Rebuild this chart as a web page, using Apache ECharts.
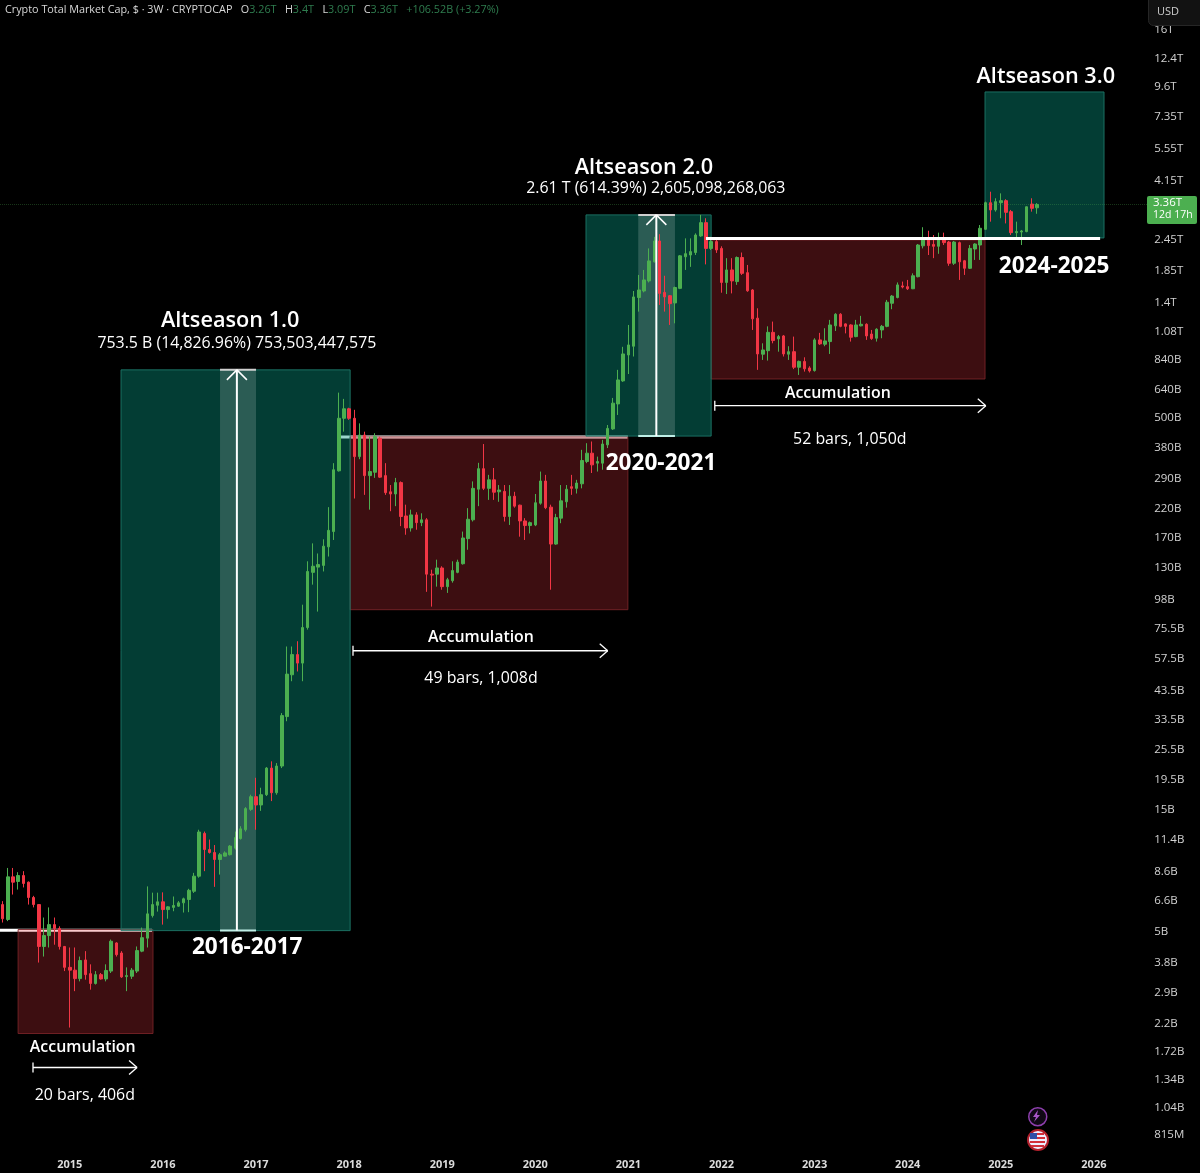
<!DOCTYPE html>
<html>
<head>
<meta charset="utf-8">
<title>Crypto Total Market Cap</title>
<script src="https://cdn.jsdelivr.net/npm/echarts@6/dist/echarts.min.js"></script>
<style>html,body{margin:0;background:#000}</style>
</head>
<body>
<div id="main" style="width:1200px;height:1173px;"></div>
<script>
// values in billions USD, one entry per 3W bar
var opens = [6.40,5.60,8.20,7.87,8.30,7.82,6.82,6.40,4.40,4.85,
5.35,5.17,4.40,3.65,3.56,3.30,3.90,3.45,3.16,3.42,
3.29,3.53,4.54,4.15,3.36,3.37,3.53,4.22,4.74,5.80,
6.36,6.56,6.12,6.24,6.31,6.50,6.70,7.21,8.25,12.1,
10.47,10.2,9.58,9.87,10.0,10.6,11.55,12.5,15.0,16.8,
15.6,17.1,21.7,17.4,22.1,34.4,50.0,59.9,55.5,76.3,
125,131,133,157,180,310,496,540,496,352,
427,297,306,415,297,257,252,279,207,186,
209,195,200,123,123,130,110,116,125,135,
169,200,263,316,265,286,257,258,206,247,
228,198,190,191,232,283,224,161,203,235,
269,265,276,337,363,332,332,391,451,564,
693,874,945,1461,1549,1695,2010,2423,1530,1485,
1392,1586,2103,2137,2185,2534,2855,2267,2410,2267,
1672,1870,1685,2090,1825,1563,1215,880,908,1070,
1009,1036,880,900,783,825,778,760,1000,962,
985,1134,1258,1154,1143,1030,1134,1150,1054,1015,
1093,1129,1388,1461,1621,1610,1580,1760,2320,2500,
2350,2310,2500,2400,1985,2387,2030,1898,2255,2337,
2690,3412,3198,3412,3475,3150,2610,2625,2635,3370,3260];
var closes = [5.64,8.20,7.82,8.30,7.73,6.82,6.40,4.40,4.85,5.35,
5.17,4.40,3.65,3.56,3.30,3.88,3.42,3.16,3.42,3.29,
3.55,4.61,4.09,3.35,3.39,3.56,4.24,4.76,5.89,6.40,
6.56,6.12,6.27,6.35,6.50,6.74,7.27,8.25,12.25,10.47,
10.2,9.58,10.0,10.16,10.8,11.65,12.6,15.1,16.8,15.6,
17.1,21.7,17.4,22.1,34.7,50.3,59.9,55.5,76.3,126,
132,134,158,182,313,496,540,496,352,427,
297,308,421,293,255,252,279,206,186,209,
195,200,123,122,130,110,117,127,137,170,
201,265,316,265,286,256,261,206,247,226,
198,190,195,233,283,223,161,204,237,263,
265,278,340,363,327,337,394,453,568,699,
882,956,1469,1563,1710,2027,2423,1516,1469,1383,
1598,2121,2163,2203,2556,2855,2267,2410,2236,1672,
1870,1695,2090,1814,1552,1207,882,914,1070,994,
1030,882,900,783,825,772,758,1000,965,991,
1143,1258,1129,1129,1024,1143,1150,1036,1012,1100,
1129,1401,1480,1636,1605,1580,1775,2337,2480,2325,
2310,2500,2387,1985,2400,2010,1898,2267,2358,2715,
3412,3198,3445,3475,3130,2610,2635,2650,3290,3245,3360];
var highs = [6.60,8.88,8.88,8.55,8.63,7.87,6.92,6.42,5.70,6.24,
5.70,5.27,4.42,4.36,4.36,4.02,4.22,3.75,3.53,3.47,
3.75,4.68,4.57,4.22,3.65,3.63,4.40,5.21,7.53,7.12,
7.12,7.14,6.31,6.88,6.60,6.81,7.37,8.50,12.5,12.3,
11.45,10.9,10.16,10.3,10.9,12.3,12.9,15.3,17.1,19.9,
18.2,21.9,23.05,22.7,35.5,64.4,64.4,67.5,93.6,138,
162,148,168,224,332,624,590,545,535,474,
440,421,434,421,332,273,291,282,229,219,
214,212,203,128,140,132,119,138,140,180,
222,282,333,394,299,318,273,273,273,257,
229,203,197,252,308,299,229,211,273,273,
299,286,374,397,403,352,409,467,595,765,
940,1143,1549,1788,1870,2267,2514,2575,1775,1494,
1610,2137,2480,2480,2594,3060,2970,2514,2480,2310,
2078,2078,2110,2185,1955,1575,1327,970,1129,1178,
1045,1045,945,1030,831,856,790,1015,1065,1110,
1196,1270,1270,1160,1150,1196,1240,1160,1093,1110,
1143,1430,1494,1672,1685,1710,1814,2358,2740,2655,
2556,2610,2610,2423,2423,2410,2045,2337,2373,2795,
3445,3765,3550,3710,3520,3198,2880,2674,3300,3550,3400];
var lows = [5.45,5.52,7.00,7.32,7.46,6.40,6.24,3.81,4.02,4.36,
4.47,4.28,3.53,2.13,2.95,3.22,3.27,2.99,3.13,3.27,
3.22,3.47,4.02,3.32,2.95,3.29,3.47,4.18,4.36,5.70,
6.01,5.35,5.64,6.03,6.27,5.96,5.98,7.10,8.14,8.63,
10.1,7.50,8.37,9.84,9.93,10.47,11.45,12.3,14.8,12.5,
14.8,16.9,16.15,17.1,21.7,33.0,47.2,51.5,47.2,74.9,
112,88,126,144,167,308,440,489,242,344,
250,219,291,291,250,216,226,189,175,180,
183,189,105,92,110,107,104,114,124,134,
153,197,226,261,239,239,235,197,191,223,
172,167,177,189,229,220,107,160,194,223,
250,253,265,332,304,308,313,380,447,511,
687,737,862,1288,1530,1672,2000,1367,1288,1143,
1160,1575,1870,1922,2137,2514,1965,2236,2177,1525,
1507,1516,1636,1788,1538,1093,765,836,831,970,
900,862,836,770,731,753,747,753,956,945,
882,1083,1120,1060,985,1024,1129,1000,1000,985,
1015,1120,1316,1450,1586,1563,1575,1750,2267,2137,
2078,2160,2337,1940,1955,1710,1788,1885,2045,2045,
2674,2880,3150,2970,2835,2556,2460,2337,2620,3150,3090];

var yearLabels = ['2015','2016','2017','2018','2019','2020','2021','2022','2023','2024','2025','2026'];
var firstYearBar = 13, barsPerYear = 18, barCount = 222;

var priceTicks = [16000,12400,9600,7350,5550,4150,2450,1850,1400,1080,840,640,500,380,290,220,170,130,98,75.5,57.5,43.5,33.5,25.5,19.5,15,11.4,8.6,6.6,5,3.8,2.9,2.2,1.72,1.34,1.04,0.815];
var lastClose = 3360;

// annotation boxes: [from bar, to bar, low, high]
var redBoxes = [[3,29.08,2.02,5.12],[67.2,120.9,89.5,420],[137,189.95,705,2445]];
var greenBoxes = [[22.9,67.2,5.07,765],[112.8,137,423,3060],[189.95,212.96,2490,9190]];
var measureBands = [[42.04,49,5.07,765],[122.9,130,423,3060]];
// horizontal levels: [from bar, to bar, value]
var levelsUnder = [[-0.5,28.9,5.09],[65.2,120.9,420]];
var levelsOver = [[136,212.2,2475]];
// measure arrows: [bar, low, high]
var measures = [[45.3,5.07,765],[126.4,423,3060]];
// accumulation ranges: [from bar, to bar, value]
var ranges = [[5.88,26,1.49],[67.75,117,62],[137.7,190.1,555]];
// notes: [bar, value, text, style]
var notes = [
  [44,1190,'Altseason 1.0','title'],
  [45.3,965,'753.5 B (14,826.96%) 753,503,447,575','small'],
  [124,4650,'Altseason 2.0','title'],
  [126.3,3860,'2.61 T (614.39%) 2,605,098,268,063','small'],
  [201.7,10500,'Altseason 3.0','title'],
  [47.3,4.36,'2016-2017','period'],
  [127.3,332,'2020-2021','period'],
  [203.3,1935,'2024-2025','period'],
  [15.5,1.79,'Accumulation','acc'],
  [92.5,69.6,'Accumulation','acc'],
  [161.5,621,'Accumulation','acc'],
  [15.9,1.16,'20 bars, 406d','small'],
  [92.5,48.4,'49 bars, 1,008d','small'],
  [163.8,412,'52 bars, 1,050d','small']
];

var fontName = '"Open Sans", sans-serif';
var noteFonts = {
  title: '600 21.7px ' + fontName,
  small: '500 15.9px ' + fontName,
  period: '700 22.6px ' + fontName,
  acc: '600 15.9px ' + fontName
};

var categories = [];
for (var b = 0; b < barCount; b++) categories.push('bar' + b);

function fmtPrice(v) {
  if (v >= 1000) return +(v / 1000).toFixed(2) + 'T';
  if (v < 1) return Math.round(v * 1000) + 'M';
  return +v.toFixed(2) + 'B';
}

function boxSeries(list, fill, border, z) {
  return {
    type: 'custom', xAxisIndex: 1, yAxisIndex: 0, z: z, silent: true, clip: false,
    data: list.map(function (d, i) { return [d[0], d[2], i]; }),
    renderItem: function (params, api) {
      var d = list[params.dataIndex];
      var a = api.coord([d[0], d[3]]), c = api.coord([d[1], d[2]]);
      return {
        type: 'rect',
        shape: { x: a[0], y: a[1], width: c[0] - a[0], height: c[1] - a[1] },
        style: { fill: fill, stroke: border, lineWidth: 1 }
      };
    }
  };
}

function levelSeries(list, z) {
  return {
    type: 'custom', xAxisIndex: 1, yAxisIndex: 0, z: z, silent: true, clip: false,
    data: list.map(function (d, i) { return [d[0], d[2], i]; }),
    renderItem: function (params, api) {
      var d = list[params.dataIndex];
      var a = api.coord([d[0], d[2]]), c = api.coord([d[1], d[2]]);
      return { type: 'line', shape: { x1: a[0], y1: a[1], x2: c[0], y2: c[1] }, style: { stroke: '#fff', lineWidth: 3 } };
    }
  };
}

function seg(x1, y1, x2, y2, color, w) {
  return { type: 'line', shape: { x1: x1, y1: y1, x2: x2, y2: y2 }, style: { stroke: color, lineWidth: w } };
}

var chart = echarts.init(document.getElementById('main'));
chart.setOption({
  animation: false,
  backgroundColor: '#000',
  textStyle: { fontFamily: fontName },
  grid: { left: 0, top: 0, width: 1148.2, height: 1151 },
  xAxis: [{
    type: 'category', data: categories,
    axisLine: { show: false }, axisTick: { show: false }, splitLine: { show: false },
    axisLabel: {
      color: '#dcdcdc', fontSize: 11, fontWeight: 700, margin: 8,
      interval: function (i) { return i >= firstYearBar && (i - firstYearBar) % barsPerYear === 0; },
      formatter: function (v, i) { return yearLabels[(i - firstYearBar) / barsPerYear] || ''; }
    }
  }, {
    type: 'value', min: -0.5, max: barCount - 0.5, show: false, splitLine: { show: false }
  }],
  yAxis: {
    type: 'log', position: 'right', min: 0.706, max: 20920,
    axisLine: { show: false }, axisTick: { show: false }, splitLine: { show: false },
    axisLabel: {
      color: '#d2d2d2', fontSize: 11.5, fontWeight: 500, margin: 6, align: 'left',
      customValues: priceTicks,
      formatter: function (v) { return fmtPrice(v); }
    }
  },
  series: [
    levelSeries(levelsUnder, 0),
    boxSeries(redBoxes, 'rgba(242,54,69,0.25)', 'rgba(120,35,40,0.9)', 1),
    boxSeries(greenBoxes, 'rgba(8,153,129,0.4)', 'rgba(30,120,105,0.9)', 1),
    boxSeries(measureBands, 'rgba(255,255,255,0.16)', 'rgba(255,255,255,0)', 1),
    {
      type: 'candlestick', z: 2, barWidth: 3, clip: true,
      data: opens.map(function (o, i) { return [o, closes[i], lows[i], highs[i]]; }),
      itemStyle: { color: '#4caf50', color0: '#f23645', borderColor: '#4caf50', borderColor0: '#f23645', borderWidth: 1 },
      markLine: {
        silent: true, symbol: 'none', label: { show: false }, animation: false,
        lineStyle: { color: 'rgba(76,175,80,0.3)', type: 'dotted', width: 1 },
        data: [{ yAxis: lastClose }]
      }
    },
    levelSeries(levelsOver, 3),
    {
      type: 'custom', xAxisIndex: 1, yAxisIndex: 0, z: 4, silent: true, clip: false,
      data: measures.map(function (d) { return [d[0], d[1]]; }),
      renderItem: function (params, api) {
        var d = measures[params.dataIndex], band = measureBands[params.dataIndex];
        var lo = api.coord([d[0], d[1]]), hi = api.coord([d[0], d[2]]);
        var bl = api.coord([band[0], d[1]])[0], br = api.coord([band[1], d[1]])[0];
        return {
          type: 'group',
          children: [
            seg(bl, hi[1], br, hi[1], '#cfcfcf', 2),
            seg(bl, lo[1], br, lo[1], '#bfeee6', 2),
            seg(lo[0], lo[1], hi[0], hi[1], '#fff', 2),
            seg(hi[0] - 10, hi[1] + 10, hi[0], hi[1], '#fff', 1.5),
            seg(hi[0] + 10, hi[1] + 10, hi[0], hi[1], '#fff', 1.5)
          ]
        };
      }
    },
    {
      type: 'custom', xAxisIndex: 1, yAxisIndex: 0, z: 4, silent: true, clip: false,
      data: ranges.map(function (d) { return [d[0], d[2]]; }),
      renderItem: function (params, api) {
        var d = ranges[params.dataIndex];
        var a = api.coord([d[0], d[2]]), c = api.coord([d[1], d[2]]);
        return {
          type: 'group',
          children: [
            seg(a[0], a[1], c[0], c[1], '#fff', 1.3),
            seg(a[0], a[1] - 5, a[0], a[1] + 5, '#fff', 1.3),
            seg(c[0] - 8, c[1] - 7, c[0], c[1], '#fff', 1.3),
            seg(c[0] - 8, c[1] + 7, c[0], c[1], '#fff', 1.3)
          ]
        };
      }
    },
    {
      type: 'custom', xAxisIndex: 1, yAxisIndex: 0, z: 5, silent: true, clip: false,
      data: notes.map(function (d) { return [d[0], d[1]]; }),
      renderItem: function (params, api) {
        var d = notes[params.dataIndex];
        var p = api.coord([d[0], d[1]]);
        return {
          type: 'text',
          style: { x: p[0], y: p[1], text: d[2], fill: '#fff', font: noteFonts[d[3]], align: 'center', verticalAlign: 'middle' }
        };
      }
    }
  ],
  graphic: [
    {
      type: 'text', left: 5, top: 4, z: 20,
      style: {
        text: '{w|Crypto Total Market Cap, $ · 3W · CRYPTOCAP   O}{g|3.26T}{w|   H}{g|3.4T}{w|   L}{g|3.09T}{w|   C}{g|3.36T}{g|   +106.52B (+3.27%)}',
        rich: {
          w: { fill: '#d8d8d8', font: '500 10.8px ' + fontName },
          g: { fill: '#2f7d4f', font: '500 10.8px ' + fontName }
        }
      }
    },
    { type: 'rect', left: 1148, top: -6, z: 20, shape: { width: 60, height: 31, r: 5 }, style: { fill: '#121212', stroke: '#262626' } },
    { type: 'text', left: 1157, top: 6, z: 21, style: { text: 'USD', fill: '#cfcfcf', font: '500 11px ' + fontName } },
    { type: 'rect', left: 1147, top: 196, z: 20, shape: { width: 50, height: 28, r: 2 }, style: { fill: '#4caf50' } },
    { type: 'text', left: 1153, top: 197, z: 21, style: { text: '3.36T', fill: '#fff', font: '500 11.5px ' + fontName } },
    { type: 'text', left: 1153, top: 210, z: 21, style: { text: '12d 17h', fill: '#fff', font: '500 10.5px ' + fontName } },
    { type: 'circle', left: 1028, top: 1107, z: 20, shape: { r: 9 }, style: { fill: '#100816', stroke: '#8e3fae', lineWidth: 1.5 } },
    { type: 'polygon', left: 1033, top: 1110, z: 21, shape: { points: [[6, 0], [1, 7], [4, 7], [2, 12], [8, 5], [5, 5]] }, style: { fill: '#a855c8' } },
    { type: 'circle', left: 1027, top: 1129, z: 20, shape: { r: 10 }, style: { fill: '#eef', stroke: '#b3202c', lineWidth: 2 } },
    { type: 'rect', left: 1031, top: 1133, z: 21, shape: { width: 13, height: 2 }, style: { fill: '#d22f3a' } },
    { type: 'rect', left: 1030, top: 1137, z: 21, shape: { width: 15, height: 2 }, style: { fill: '#d22f3a' } },
    { type: 'rect', left: 1030, top: 1141, z: 21, shape: { width: 15, height: 2 }, style: { fill: '#d22f3a' } },
    { type: 'rect', left: 1031, top: 1145, z: 21, shape: { width: 13, height: 2 }, style: { fill: '#d22f3a' } },
    { type: 'rect', left: 1030, top: 1133, z: 22, shape: { width: 7, height: 6 }, style: { fill: '#2f4fa8' } }
  ]
});
</script>
</body>
</html>
